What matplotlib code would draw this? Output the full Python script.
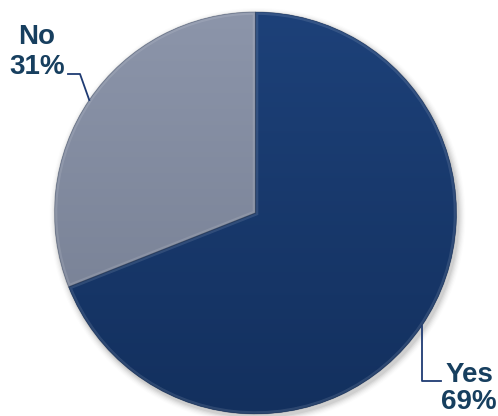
import numpy as np
import matplotlib.pyplot as plt
from matplotlib.colors import LinearSegmentedColormap
from matplotlib.patches import Circle, PathPatch

labels = ['No', 'Yes']
values = [31, 69]
top_colors = ['#8c95aa', '#1d4179']
bottom_colors = ['#737c90', '#13305e']

text_col = '#173f5f'
line_col = '#1f3b73'

W, H = 498, 416
cx, cy, R = 255.5, 203.0, 201.0

fig = plt.figure(figsize=(W / 100, H / 100), dpi=100)
ax = fig.add_axes([0, 0, 1, 1])

# soft drop shadow under the pie
for i, a in enumerate(np.linspace(0.05, 0.012, 6)):
    ax.add_patch(Circle((cx + 2, cy - 3), R + 1 + i * 1.2, fc='k', ec='none',
                        alpha=a, zorder=0))

wedges, _ = ax.pie(values, colors=top_colors, startangle=90, counterclock=True,
                   radius=R, center=(cx, cy), frame=True,
                   wedgeprops=dict(linewidth=0))

# vertical shading inside each slice
grad = np.linspace(0, 1, 256).reshape(-1, 1)
for w, c0, c1 in zip(wedges, top_colors, bottom_colors):
    cmap = LinearSegmentedColormap.from_list('g', [c0, c1])
    im = ax.imshow(grad, cmap=cmap, aspect='auto', zorder=2,
                   extent=(cx - R, cx + R, cy - R, cy + R))
    im.set_clip_path(w)

# bevel: light rim inside each slice, darker outline
for w in wedges:
    rim = PathPatch(w.get_path(), transform=w.get_transform(), fill=False,
                    ec='white', lw=4, alpha=0.11, zorder=3)
    ax.add_patch(rim)
    rim.set_clip_path(w)
    edge = PathPatch(w.get_path(), transform=w.get_transform(), fill=False,
                     ec='#0b1a33', lw=0.8, alpha=0.28, zorder=3)
    ax.add_patch(edge)

ax.set_xlim(0, W)
ax.set_ylim(0, H)
ax.set_aspect('equal')
ax.axis('off')

# labels with elbow leader lines
mids = [np.deg2rad((w.theta1 + w.theta2) / 2) for w in wedges]
font = dict(ha='center', va='baseline', color=text_col, fontsize=20,
            fontweight='bold', family='Liberation Sans')

# No
ex, ey = cx + R * np.cos(mids[0]), cy + R * np.sin(mids[0])
ax.plot([ex, 80, 68], [ey, H - 74, H - 74], color=line_col, lw=1.3, zorder=4)
ax.text(37, H - 44, labels[0], **font)
ax.text(37, H - 74, f'{values[0]}%', **font)

# Yes
ex, ey = cx + R * np.cos(mids[1]), cy + R * np.sin(mids[1])
ax.plot([ex, ex, 441], [ey, H - 381, H - 381], color=line_col, lw=1.3, zorder=4)
ax.text(469, H - 382, labels[1], **font)
ax.text(469, H - 409, f'{values[1]}%', **font)

fig.savefig('out.png', dpi=100)
